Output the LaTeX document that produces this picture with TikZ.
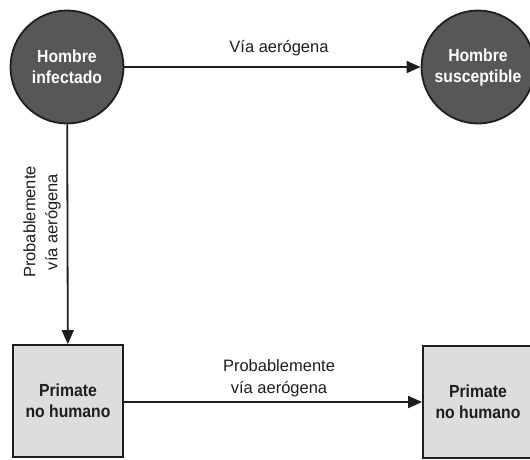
\documentclass[tikz,border=0pt]{standalone}
\usepackage{fontspec}
\setmainfont{Liberation Sans}
\newfontfamily\hostfont{Liberation Sans}[FakeStretch=0.9]
\usetikzlibrary{arrows.meta}
\definecolor{hostfill}{HTML}{575757}
\definecolor{boxfill}{HTML}{DCDDDF}
\definecolor{inkline}{HTML}{1E1E1E}
\tikzset{
  human/.style={circle, draw=inkline, line width=1.8pt, fill=hostfill,
    minimum size=113pt, inner sep=0pt, text=white, align=center,
    font=\hostfont\fontsize{17.5}{21}\selectfont\bfseries},
  primate/.style={rectangle, draw=inkline, line width=1.8pt, fill=boxfill,
    minimum width=110pt, minimum height=112pt, inner sep=0pt, align=center,
    text=inkline, font=\hostfont\fontsize{17.5}{21}\selectfont\bfseries},
  route/.style={draw=inkline, line width=1.8pt,
    -{Triangle[length=14pt,width=12pt]}},
  routelabel/.style={align=center, text=inkline, inner sep=0pt,
    font=\fontsize{16.5}{22}\selectfont}
}
\begin{document}
\begin{tikzpicture}[x=1pt,y=-1pt]
  \useasboundingbox (0,0) rectangle (530,459);
  % hosts
  \node[human] (hi) at (67,67) {Hombre\\infectado};
  \node[human] (hs) at (478,67) {Hombre\\susceptible};
  \node[primate] (p1) at (68,401) {Primate\\no humano};
  \node[primate] (p2) at (478,402) {Primate\\no humano};
  % transmission routes
  \draw[route] (hi) -- (hs);
  \draw[route] (hi) -- (p1);
  \draw[route] (p1.east |- 0,402) -- (p2.west |- 0,402);
  % route labels
  \node[routelabel] (l1) at (279,48) {Vía aerógena};
  \node[routelabel, rotate=90] (l2) at (42,222) {Probablemente\\vía aerógena};
  \node[routelabel] (l3) at (279,378) {Probablemente\\vía aerógena};
\end{tikzpicture}
\end{document}
